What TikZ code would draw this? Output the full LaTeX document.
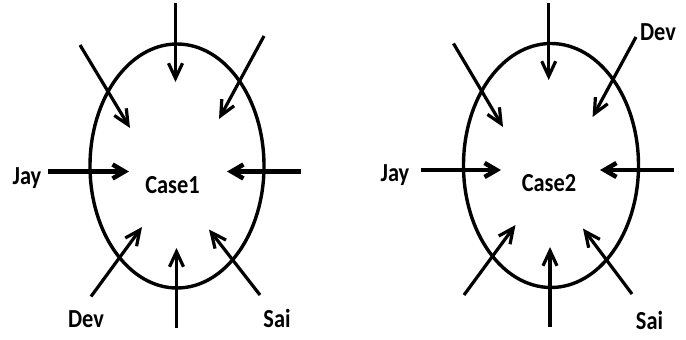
\documentclass[tikz,border=0pt]{standalone}
\usepackage{fontspec}
\setmainfont{Carlito}[FakeStretch=0.86]
\usetikzlibrary{arrows.meta,shapes.geometric}
\tikzset{
  oval/.style={draw, ellipse, line width=3.4pt, inner sep=0pt},
  arr/.style={line width=3.2pt, -{Straight Barb[length=15pt,width=14pt]}},
  harr/.style={line width=4.5pt, -{Straight Barb[length=12pt,width=14pt]}},
  lbl/.style={font=\fontsize{26}{26}\selectfont\bfseries, anchor=base, inner sep=0pt},
  ctr/.style={font=\fontsize{26}{26}\selectfont\bfseries, anchor=base, inner sep=0pt}
}
\begin{document}
\begin{tikzpicture}[x=1pt,y=-1pt]
\useasboundingbox (0,0) rectangle (686,340);
% ---------- left panel ----------
\node[oval, minimum width=174pt, minimum height=244pt] (ovalL) at (177,166) {};
\node[ctr] (case1) at (172.5,193) {Case1};
\node[lbl] (jayL) at (27,184) {Jay};
\node[lbl] (devL) at (86,327) {Dev};
\node[lbl] (saiL) at (277,327) {Sai};
\coordinate (LTs) at (175.5,3);   \coordinate (LTt) at (175.5,82);
\coordinate (LNWs) at (80,45);    \coordinate (LNWt) at (130,128);
\coordinate (LNEs) at (264,36);   \coordinate (LNEt) at (219,119);
\coordinate (LWs) at (48,171.5);  \coordinate (LWt) at (129,171.5);
\coordinate (LEs) at (300.5,171.5); \coordinate (LEt) at (227,171.5);
\coordinate (LSWs) at (91,296.5); \coordinate (LSWt) at (142,227);
\coordinate (LSs) at (176.5,328); \coordinate (LSt) at (176.5,248);
\coordinate (LSEs) at (260,295);  \coordinate (LSEt) at (209,229.5);
\draw[arr] (LTs) -- (LTt);
\draw[arr] (LNWs) -- (LNWt);
\draw[arr] (LNEs) -- (LNEt);
\draw[harr] (LWs) -- (LWt);
\draw[harr] (LEs) -- (LEt);
\draw[arr] (LSWs) -- (LSWt);
\draw[arr] (LSs) -- (LSt);
\draw[arr] (LSEs) -- (LSEt);
% ---------- right panel ----------
\node[oval, minimum width=175pt, minimum height=244pt] (ovalR) at (551,165.5) {};
\node[ctr] (case2) at (549,191) {Case2};
\node[lbl] (jayR) at (395,181) {Jay};
\node[lbl] (devR) at (658,40) {Dev};
\node[lbl] (saiR) at (649.5,329) {Sai};
\coordinate (RTs) at (548.7,3);   \coordinate (RTt) at (548.7,80);
\coordinate (RNWs) at (453.5,43.5); \coordinate (RNWt) at (503,127);
\coordinate (RNEs) at (636,37);   \coordinate (RNEt) at (592.6,117);
\coordinate (RWs) at (421,170);   \coordinate (RWt) at (501,170);
\coordinate (REs) at (674,170);   \coordinate (REt) at (600,170);
\coordinate (RSWs) at (464,295);  \coordinate (RSWt) at (515.5,225);
\coordinate (RSs) at (550,326.6); \coordinate (RSt) at (550,247);
\coordinate (RSEs) at (632,294);  \coordinate (RSEt) at (583,228.5);
\draw[arr] (RTs) -- (RTt);
\draw[arr] (RNWs) -- (RNWt);
\draw[arr] (RNEs) -- (RNEt);
\draw[harr] (RWs) -- (RWt);
\draw[harr] (REs) -- (REt);
\draw[arr] (RSWs) -- (RSWt);
\draw[arr] (RSs) -- (RSt);
\draw[arr] (RSEs) -- (RSEt);
\end{tikzpicture}
\end{document}
